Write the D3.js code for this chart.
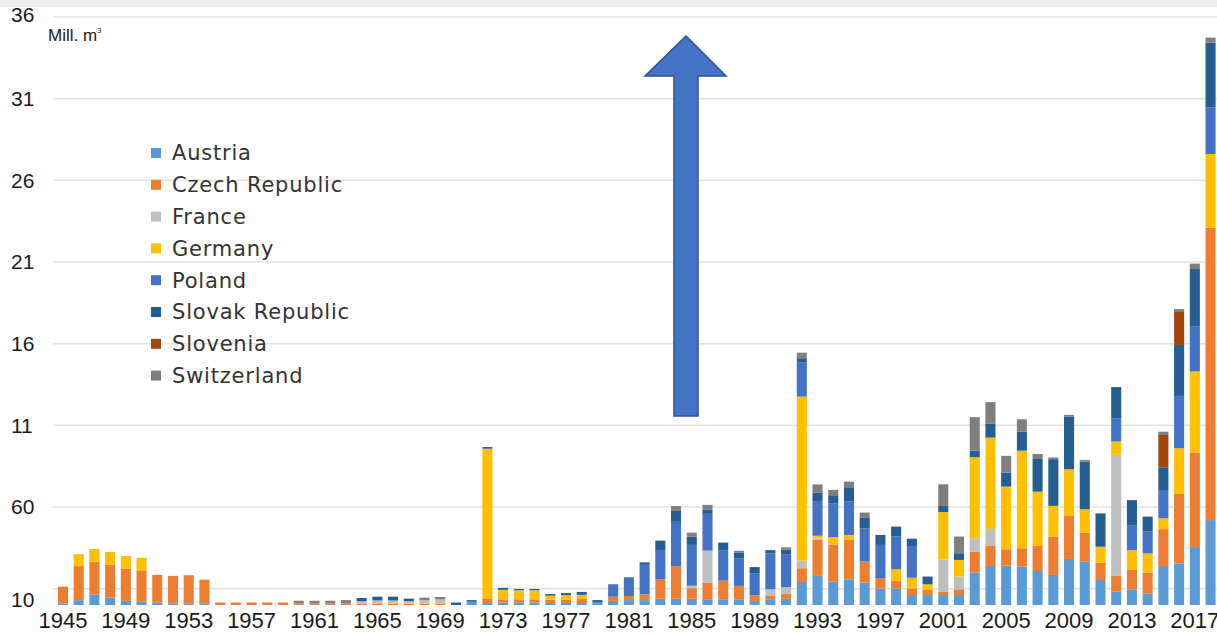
<!DOCTYPE html>
<html>
<head>
<meta charset="utf-8">
<script src="https://cdn.jsdelivr.net/npm/d3@7"></script>
<style>
  body { margin: 0; background: #fff; }
  svg { display: block; }
</style>
</head>
<body>
<div id="vis"></div>
<script>
var width = 1217, height = 635;

// years and tick labels
var years = d3.range(1945, 2019);
var yearTicks = d3.range(1945, 2018, 4);
var yTickValues = [1, 6, 11, 16, 21, 26, 31, 36];
var yTickLabels = ["10", "60", "11", "16", "21", "26", "31", "36"];

var countries = ["Austria", "Czech Republic", "France", "Germany", "Poland", "Slovak Republic", "Slovenia", "Switzerland"];
var colors = ["#5B9BD5", "#ED7D31", "#BFBFBF", "#FFC000", "#4472C4", "#255E91", "#9E480E", "#7F7F7F"];

// values in mill. m3, one per year 1945..2018
var austria = [0.1,0.3,0.65,0.45,0.25,0.2,0.15,0.1,0.1,0.1, 0,0,0,0,0,0,0,0,0,0, 0,0,0,0,0,0,0.2,0.12,0.15,0.15, 0.15,0.12,0.12,0.12,0.15,0.25,0.3,0.3,0.38,0.38, 0.38,0.35,0.35,0.35,0.25,0.35,0.38,1.41,1.78,1.43, 1.57,1.37,1.0,1.02,0.61,0.61,0.61,0.61,1.98,2.39, 2.41,2.35,2.08,1.84,2.82,2.65,1.53,0.82,0.96,0.71, 2.39,2.55,3.49,5.2];
var czech = [1.02,2.08,2.0,2.02,1.98,1.92,1.69,1.68,1.72,1.45, 0.15,0.15,0.15,0.15,0.15,0.1,0.1,0.1,0.1,0.08, 0.08,0.08,0.08,0.08,0.08,0,0,0.25,0.2,0.2, 0.2,0.2,0.22,0.25,0,0.26,0.25,0.35,1.19,2.0, 0.65,1.02,1.14,0.82,0.35,0.2,0.29,0.84,2.2,2.27, 2.41,1.29,0.64,0.47,0.41,0.31,0.2,0.35,1.29,1.25, 1.0,1.12,1.53,2.35,2.63,1.78,1.06,0.96,1.22,1.27, 2.25,4.25,5.85,17.9];
var france = [0,0,0,0,0,0,0,0,0,0, 0,0,0,0,0,0,0,0,0,0.15, 0.2,0.2,0.15,0.22,0.26,0,0,0,0,0, 0,0,0,0,0,0,0,0,0,0, 0.15,1.96,0,0,0,0.41,0.41,0.47,0.1,0, 0,0,0,0,0,0,1.98,0.78,0.82,1.02, 0,0,0,0,0,0,0,7.41,0,0, 0,0,0,0];
var germany = [0,0.73,0.78,0.78,0.77,0.77,0,0,0,0, 0,0,0,0,0,0,0,0,0,0, 0,0,0,0,0,0,0,9.2,0.58,0.55, 0.55,0.25,0.27,0.25,0,0,0,0,0,0, 0,0,0,0,0,0,0,10.04,0.16,0.45, 0.31,0,0,0.7,0.65,0.35,2.9,1.02,4.96,5.59, 3.84,5.98,3.33,1.88,2.86,1.43,0.98,0.82,1.18,1.18, 0.67,2.8,4.96,4.51];
var poland = [0,0,0,0,0,0,0,0,0,0, 0,0,0,0,0,0,0,0,0,0, 0,0,0,0,0,0,0,0,0,0, 0,0,0,0,0,0.76,1.15,1.86,1.8,2.71, 2.5,2.25,1.84,1.7,1.35,2.2,2.0,2.08,2.08,2.08, 2.06,2.04,2.04,2.0,1.94,0,0,0,0,0, 0,0,0,0,0,0,0,1.43,1.53,1.33, 1.73,3.2,2.74,2.86];
var slovak = [0,0,0,0,0,0,0,0,0,0, 0,0,0,0,0,0,0,0,0,0.2, 0.23,0.23,0.16,0,0,0.15,0.1,0.1,0.12,0.08, 0.08,0.1,0.12,0.18,0.15,0,0,0.1,0.57,0.67, 0.5,0.25,0.49,0.35,0.37,0.2,0.3,0.27,0.57,0.49, 0.86,0.67,0.61,0.61,0.45,0.47,0.37,0.41,0.41,0.84, 0.86,1.16,2.0,2.86,3.23,2.92,2.04,1.9,1.53,0.92, 1.39,3.12,3.53,3.96];
var slovenia = [0,0,0,0,0,0,0,0,0,0, 0,0,0,0,0,0,0,0,0,0, 0,0,0,0,0,0,0,0,0,0, 0,0,0,0,0,0,0,0,0,0, 0,0,0,0,0,0,0,0,0,0, 0,0,0,0,0,0,0,0,0,0, 0,0,0,0,0,0,0,0,0,0, 1.98,2.02,0,0];
var switzerland = [0,0,0,0,0,0,0,0,0,0, 0,0,0,0,0,0.16,0.16,0.16,0.2,0, 0,0,0,0.15,0.15,0,0,0,0,0, 0,0,0,0,0,0,0,0,0,0.3, 0.25,0.3,0,0.1,0,0,0.15,0.34,0.49,0.33, 0.34,0.29,0,0,0,0,1.33,1.02,2.04,1.33, 1.02,0.76,0.31,0.1,0.1,0.1,0,0,0,0, 0.2,0.18,0.33,0.31];

var series = [austria, czech, france, germany, poland, slovak, slovenia, switzerland];

var table = years.map(function(y, i) {
    var row = {year: y};
    countries.forEach(function(c, j) { row[c] = series[j][i]; });
    return row;
});

var svg = d3.select("#vis")
    .append("svg")
    .attr("width", width)
    .attr("height", height);

svg.append("rect").attr("width", width).attr("height", height).attr("fill", "#fff");
// light strip at the top of the screenshot
svg.append("rect").attr("width", width).attr("height", 7).attr("fill", "#eeeeee");

var x = d3.scaleBand()
    .domain(years)
    .range([55.1, 1218.4])
    .paddingInner(0.36)
    .paddingOuter(0.18);

var y = d3.scaleLinear()
    .domain([0, 36])
    .range([605, 17]);

// gridlines
svg.append("g")
    .selectAll("line")
    .data(yTickValues)
    .join("line")
      .attr("x1", 53)
      .attr("x2", width)
      .attr("y1", d => y(d))
      .attr("y2", d => y(d))
      .attr("stroke", "#e3e3e3")
      .attr("stroke-width", 1.5);

// y tick labels
svg.append("g")
    .selectAll("text")
    .data(yTickValues)
    .join("text")
      .attr("x", 11)
      .attr("y", d => y(d))
      .attr("dy", (d, i) => i == 0 ? "0.85em" : (i == yTickValues.length - 1 ? "0.25em" : "0.35em"))
      .style("font", "21px 'Liberation Sans', Arial, sans-serif")
      .attr("fill", "#1a1a1a")
      .text((d, i) => yTickLabels[i]);

// unit label
var unit = svg.append("text")
    .attr("x", 48)
    .attr("y", 41)
    .style("font", "17px 'Liberation Sans', Arial, sans-serif")
    .attr("fill", "#1a1a1a")
    .text("Mill. m");
unit.append("tspan")
    .attr("dy", -8)
    .style("font-size", "8px")
    .text("3");

// stacked bars
var stack = d3.stack().keys(countries);
var layers = stack(table);

svg.append("g")
    .selectAll("g")
    .data(layers)
    .join("g")
      .attr("fill", (d, i) => colors[i])
    .selectAll("rect")
    .data(d => d)
    .join("rect")
      .attr("x", d => x(d.data.year))
      .attr("width", x.bandwidth())
      .attr("y", d => y(d[1]))
      .attr("height", d => y(d[0]) - y(d[1]));

// x axis labels
var xAxis = d3.axisBottom(x)
    .tickValues(yearTicks)
    .tickSize(0)
    .tickPadding(0);

svg.append("g")
    .attr("transform", "translate(0,612)")
    .call(xAxis)
    .call(g => g.select(".domain").remove())
    .selectAll("text")
      .attr("dy", "0.71em")
      .style("font", "22px 'Liberation Sans', Arial, sans-serif")
      .attr("fill", "#1a1a1a");

// legend
var legend = svg.append("g")
    .selectAll("g")
    .data(countries)
    .join("g")
      .attr("transform", (d, i) => "translate(151," + (153 + i * 31.8) + ")");

legend.append("rect")
    .attr("x", 0)
    .attr("y", -5)
    .attr("width", 10)
    .attr("height", 10)
    .attr("fill", (d, i) => colors[i]);

legend.append("text")
    .attr("x", 21)
    .attr("dy", "0.35em")
    .style("font", "21px 'DejaVu Sans', sans-serif")
    .style("letter-spacing", "0.8px")
    .attr("fill", "#333")
    .text(d => d);

// annotation arrow
var arrow = [[686, 36], [726, 76], [698, 76], [698, 416], [674, 416], [674, 76], [645, 76]];
svg.append("path")
    .attr("d", d3.line()(arrow) + "Z")
    .attr("fill", "#4472C4")
    .attr("stroke", "#2F528F")
    .attr("stroke-width", 1.5);
</script>
</body>
</html>
